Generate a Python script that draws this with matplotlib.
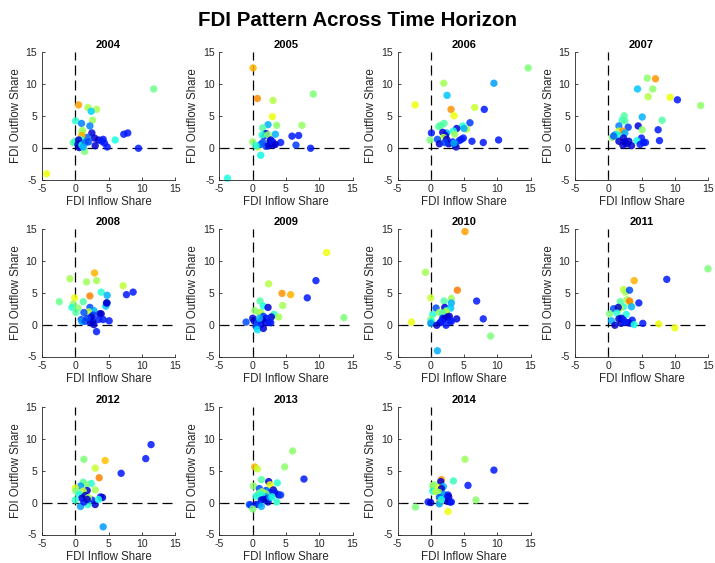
import matplotlib
matplotlib.use("Agg")
import matplotlib.pyplot as plt
import numpy as np

plt.rcParams['font.family'] = ['Liberation Sans', 'DejaVu Sans']
plt.rcParams['axes.unicode_minus'] = False

years = [2004, 2005, 2006, 2007, 2008, 2009, 2010, 2011, 2012, 2013, 2014]

# FDI inflow share (x), outflow share (y) and colour index per country, by year
inflow_2004 = [11.8, 0.5, 1.9, 3.2, 2.4, 2.6, 0.05, 0.95, 2.2, 1.1, 1.0, 2.5, 1.8, 1.0, 0.9, 2.9, 4.2, 3.5, 4.0, 4.4,
               6.0, 7.3, 7.9, 9.5, 4.8, 3.0, -0.3, 0.0, 0.5, 0.4, 0.6, 0.8, 1.4, 1.0, 1.5, -4.3, 2.0, 1.2]
outflow_2004 = [9.2, 6.7, 6.3, 6.0, 5.7, 4.3, 4.2, 3.8, 3.4, 2.7, 2.4, 2.3, 1.6, 1.9, 1.2, 1.5, 1.3, 1.2, 1.0, 0.7,
                1.2, 2.1, 2.3, -0.1, 0.1, 0.3, 0.8, 1.0, 1.2, 0.5, 0.0, 0.2, -0.6, 0.4, 0.8, -4.1, 0.9, 0.1]
group_2004 = [0.48, 0.74, 0.56, 0.56, 0.33, 0.54, 0.40, 0.25, 0.25, 0.54, 0.54, 0.08, 0.22, 0.73, 0.40, 0.08, 0.15,
              0.07, 0.15, 0.15, 0.38, 0.15, 0.15, 0.15, 0.15, 0.07, 0.45, 0.42, 0.07, 0.07, 0.07, 0.07, 0.50, 0.38,
              0.22, 0.64, 0.20, 0.30]

inflow_2005 = [0.05, 0.7, 3.05, 9.1, 2.95, 2.3, 3.6, 7.4, 1.5, 3.4, 5.9, 6.9, 4.2, 6.5, 8.7, 0.0, 0.8, 1.2, -3.8,
               2.0, 1.7, 1.4, 2.3, 2.6, 2.8, 3.1, 1.5, 2.0, 2.4, 2.7, 3.0, 1.2, 0.5, 3.4]
outflow_2005 = [12.5, 7.7, 7.4, 8.4, 4.85, 3.6, 3.5, 3.5, 3.1, 2.1, 1.8, 1.9, 0.8, 0.4, -0.1, 0.9, 0.1, -1.2, -4.8,
                2.2, 1.8, 2.0, 2.0, 1.0, 0.6, 0.4, 0.8, 0.2, 0.3, 1.2, 0.9, 0.5, 0.3, 0.5]
group_2005 = [0.72, 0.76, 0.57, 0.50, 0.64, 0.30, 0.52, 0.53, 0.45, 0.30, 0.15, 0.15, 0.15, 0.18, 0.15, 0.52, 0.58,
              0.37, 0.38, 0.07, 0.18, 0.40, 0.52, 0.07, 0.07, 0.07, 0.20, 0.18, 0.07, 0.07, 0.15, 0.22, 0.38, 0.07]

inflow_2006 = [14.65, 9.5, 1.95, 2.45, -2.35, 3.05, 6.6, 8.05, 3.5, 2.0, 1.5, 1.2, 5.9, 4.8, 5.4, 5.0, 3.9, 0.1,
               2.4, 3.4, 3.6, 1.8, 2.2, 1.9, -0.1, 1.0, 4.9, 4.6, 6.2, 7.9, 10.2, 1.3, 2.4, 2.7, 2.1, 3.3, 3.6, 3.8,
               4.3, 3.5]
outflow_2006 = [12.5, 10.1, 10.1, 8.2, 6.7, 6.0, 6.3, 6.0, 5.0, 3.8, 3.5, 3.3, 3.9, 3.4, 2.9, 3.0, 3.0, 2.3, 2.3,
                2.6, 2.1, 2.4, 1.9, 1.6, 1.2, 1.3, 1.5, 1.3, 1.0, 0.8, 1.2, 0.6, 1.3, 0.6, 0.8, 0.9, 0.5, 0.1, 1.1,
                0.7]
group_2006 = [0.50, 0.28, 0.55, 0.32, 0.64, 0.75, 0.59, 0.15, 0.64, 0.45, 0.45, 0.45, 0.18, 0.40, 0.57, 0.30, 0.08,
              0.15, 0.30, 0.38, 0.54, 0.08, 0.08, 0.58, 0.50, 0.20, 0.15, 0.15, 0.15, 0.15, 0.15, 0.07, 0.07, 0.07,
              0.18, 0.15, 0.07, 0.07, 0.15, 0.30]

inflow_2007 = [5.87, 7.1, 4.4, 6.7, 6.0, 9.3, 10.4, 13.9, 2.4, 5.1, 2.1, 2.5, 8.1, 1.6, 4.5, 3.0, 7.5, 5.1, 1.6,
               2.2, 1.0, 1.4, 0.6, 0.8, 2.5, 5.0, 7.7, 4.3, 5.6, 5.3, 1.6, 2.3, 2.8, 3.1, 3.5, 2.5, 4.8, 2.2]
outflow_2007 = [10.9, 10.8, 9.2, 9.2, 8.0, 7.9, 7.5, 6.6, 5.0, 4.8, 4.3, 4.2, 4.3, 3.4, 3.4, 3.2, 2.8, 2.8, 2.6,
                2.6, 2.0, 2.0, 1.6, 1.8, 2.3, 1.5, 1.1, 1.1, 0.8, 0.8, 1.0, 1.5, 0.6, 1.0, 0.3, 0.9, 0.5, 0.4]
group_2007 = [0.52, 0.75, 0.32, 0.52, 0.57, 0.64, 0.15, 0.52, 0.45, 0.30, 0.42, 0.45, 0.45, 0.25, 0.08, 0.18, 0.15,
              0.52, 0.58, 0.75, 0.28, 0.38, 0.52, 0.22, 0.30, 0.15, 0.15, 0.38, 0.15, 0.15, 0.07, 0.07, 0.07, 0.07,
              0.07, 0.07, 0.15, 0.07]

inflow_2008 = [-0.8, 2.9, 1.7, 3.2, 7.2, 8.7, 7.7, 3.9, 4.8, 2.2, -0.1, -2.4, 1.2, -0.3, -0.5, 0.4, 0.1, 4.6, 4.8,
               4.7, 2.2, 2.8, 2.0, 1.3, 3.9, 3.7, 2.7, 2.4, 0.9, 1.0, 1.5, 2.3, 2.8, 3.5, 4.2, 5.1, 3.2, 2.6, 1.8]
outflow_2008 = [7.2, 8.1, 6.7, 6.9, 6.1, 5.1, 4.7, 5.1, 4.6, 4.5, 4.2, 3.6, 3.6, 3.2, 2.7, 2.6, 1.9, 2.9, 3.4, 3.4,
                2.7, 2.2, 2.0, 1.9, 1.7, 1.7, 1.5, 1.2, 0.8, 0.5, 0.5, 0.3, 0.0, 0.8, 0.8, 0.6, -1.1, 0.5, 1.0]
group_2008 = [0.55, 0.72, 0.54, 0.55, 0.58, 0.15, 0.15, 0.40, 0.30, 0.77, 0.64, 0.48, 0.45, 0.52, 0.40, 0.52, 0.45,
              0.32, 0.18, 0.07, 0.20, 0.30, 0.58, 0.20, 0.07, 0.07, 0.18, 0.07, 0.20, 0.28, 0.20, 0.07, 0.07, 0.15,
              0.15, 0.15, 0.15, 0.07, 0.18]

inflow_2009 = [11.1, 9.5, 2.4, 4.4, 5.7, 8.2, 4.5, 1.1, 1.6, 2.3, 0.3, 1.0, 1.2, 3.2, 3.9, 13.7, 2.8, 1.6, 2.0, 1.4,
               -1.0, 0.0, 0.2, 0.7, 1.2, 1.9, 2.5, 2.7, 0.5, 0.7, 1.6, 1.0]
outflow_2009 = [11.3, 6.9, 6.4, 4.9, 4.7, 4.2, 3.0, 3.7, 2.9, 2.7, 2.2, 1.9, 1.8, 1.6, 1.2, 1.1, 1.2, 1.3, 1.0, 0.8,
                0.4, 1.0, 0.6, 0.2, 0.0, 0.3, 0.4, 0.3, -0.3, -0.8, -0.6, 1.0]
group_2009 = [0.64, 0.15, 0.57, 0.75, 0.72, 0.15, 0.55, 0.45, 0.38, 0.08, 0.52, 0.52, 0.56, 0.40, 0.55, 0.50, 0.07,
              0.18, 0.15, 0.07, 0.20, 0.07, 0.07, 0.18, 0.15, 0.07, 0.15, 0.15, 0.20, 0.35, 0.08, 0.30]

inflow_2010 = [5.15, -0.8, 4.0, 0.0, 6.9, 2.0, 3.1, 3.1, 0.8, 2.1, 3.0, 2.4, 1.3, 2.3, 1.7, 0.3, 0.0, 0.1, 0.0, 7.9,
               3.9, -2.9, 9.0, 1.0, 1.4, 1.8, 2.0, 2.5, 2.9, 1.6, 0.9, 2.3, 2.8, 3.1]
outflow_2010 = [14.6, 8.2, 5.4, 4.2, 3.7, 3.7, 4.1, 3.4, 2.6, 2.7, 2.6, 2.2, 1.9, 2.0, 1.8, 1.6, 0.8, 0.5, 0.2, 0.9,
                0.9, 0.4, -1.8, -4.1, 0.3, 1.0, 0.9, 1.2, 0.6, 0.5, -0.1, -0.1, 1.3, 0.5]
group_2010 = [0.74, 0.55, 0.78, 0.59, 0.15, 0.45, 0.54, 0.30, 0.20, 0.08, 0.32, 0.40, 0.54, 0.58, 0.45, 0.40, 0.52,
              0.38, 0.28, 0.15, 0.08, 0.64, 0.50, 0.30, 0.07, 0.15, 0.07, 0.07, 0.15, 0.15, 0.07, 0.15, 0.07, 0.15]

inflow_2011 = [15.0, 8.8, 3.9, 2.3, 2.6, 3.2, 1.8, 2.8, 3.3, 3.2, 4.6, 3.5, 2.3, 1.8, 0.8, 1.5, 0.2, 1.3, 2.7, 2.0,
               1.6, 2.3, 0.5, 3.6, 3.4, 3.0, 1.0, 5.2, 7.6, 10.0, 1.9, 2.5, 3.9]
outflow_2011 = [8.75, 7.1, 6.9, 5.5, 5.1, 5.4, 3.6, 3.9, 3.4, 3.7, 3.4, 2.8, 2.8, 2.6, 2.5, 2.7, 1.7, 1.8, 1.6, 1.0,
                0.9, 0.7, 0.6, 0.7, 0.2, 0.3, -0.1, 0.2, 0.1, -0.5, 0.2, 0.4, 0.0]
group_2011 = [0.50, 0.15, 0.72, 0.58, 0.55, 0.20, 0.45, 0.55, 0.64, 0.78, 0.15, 0.30, 0.40, 0.58, 0.20, 0.07, 0.50,
              0.40, 0.38, 0.07, 0.07, 0.15, 0.30, 0.15, 0.15, 0.07, 0.07, 0.15, 0.64, 0.64, 0.07, 0.15, 0.38]

inflow_2012 = [11.4, 10.6, 1.3, 4.5, 3.0, 6.9, 3.6, 1.2, 2.4, 1.6, 0.8, 0.0, 3.0, 1.8, 1.2, 0.1, 0.6, 1.5, 1.0, 3.8,
               4.1, 2.5, 3.0, 0.0, 1.9, 0.8, 4.2, 2.0, 1.3, 1.8, 3.5]
outflow_2012 = [9.1, 6.9, 6.8, 6.6, 5.4, 4.6, 3.9, 3.2, 3.0, 2.9, 2.6, 2.3, 2.0, 1.9, 1.8, 1.8, 1.3, 1.1, 0.7, 0.9,
                0.8, 0.4, -0.3, 0.4, -0.3, -0.6, -3.8, 0.8, 0.1, 0.5, 0.5]
group_2012 = [0.15, 0.15, 0.50, 0.70, 0.59, 0.15, 0.77, 0.45, 0.40, 0.50, 0.28, 0.62, 0.55, 0.07, 0.58, 0.50, 0.38,
              0.07, 0.07, 0.15, 0.07, 0.15, 0.07, 0.40, 0.40, 0.28, 0.28, 0.55, 0.15, 0.07, 0.38]

inflow_2013 = [6.0, 0.3, 0.7, 4.8, 7.7, 1.3, 2.4, 3.7, 0.1, 2.6, 1.0, 2.0, 2.3, 3.1, 2.5, 3.4, 3.9, 4.2, 0.9, 1.4,
               1.0, 2.0, 1.9, 1.3, 0.5, 1.6, 1.3, 2.3, 2.1, 3.6, 2.6, 2.9, -0.5, -0.3, 0.5, 1.0, 1.3, 0.0]
outflow_2013 = [8.1, 5.6, 5.3, 5.6, 3.7, 3.6, 3.3, 3.1, 2.6, 2.8, 2.2, 1.9, 1.7, 2.0, 1.5, 1.5, 1.2, 1.2, 1.3, 1.7,
                1.5, 1.4, 0.9, 1.2, 1.0, 0.5, 0.4, 0.1, 0.6, 0.1, 0.8, 0.9, -0.3, -0.4, -0.3, -0.2, -0.6, -1.0]
group_2013 = [0.52, 0.72, 0.59, 0.52, 0.15, 0.45, 0.08, 0.40, 0.52, 0.64, 0.20, 0.18, 0.28, 0.07, 0.15, 0.15, 0.07,
              0.18, 0.75, 0.58, 0.45, 0.52, 0.28, 0.38, 0.38, 0.15, 0.07, 0.07, 0.07, 0.40, 0.28, 0.38, 0.20, 0.18,
              0.07, 0.18, 0.30, 0.50]

inflow_2014 = [5.15, 9.5, 5.6, 3.4, 1.6, 1.5, 0.3, 0.5, 1.9, 1.2, 1.6, 0.3, 0.8, 1.2, 1.8, 2.0, 2.6, 2.7, 2.3, 1.3,
               2.5, 2.9, 3.1, -0.4, 0.0, 1.3, 1.3, 2.6, 6.8, -2.3, 1.6]
outflow_2014 = [6.8, 5.1, 2.7, 3.4, 3.6, 3.3, 2.6, 2.8, 2.5, 2.3, 2.2, 1.8, 1.7, 1.6, 1.0, 1.3, 1.2, 0.9, 0.6, 0.8,
                0.2, 0.1, 0.1, 0.1, 0.0, 0.0, -0.2, -1.4, 0.4, -0.7, 0.5]
group_2014 = [0.54, 0.15, 0.15, 0.42, 0.75, 0.07, 0.52, 0.52, 0.30, 0.64, 0.07, 0.40, 0.58, 0.54, 0.38, 0.28, 0.15,
              0.07, 0.15, 0.20, 0.07, 0.07, 0.15, 0.15, 0.07, 0.72, 0.30, 0.64, 0.52, 0.50, 0.38]

inflows = [inflow_2004, inflow_2005, inflow_2006, inflow_2007, inflow_2008, inflow_2009,
           inflow_2010, inflow_2011, inflow_2012, inflow_2013, inflow_2014]
outflows = [outflow_2004, outflow_2005, outflow_2006, outflow_2007, outflow_2008, outflow_2009,
            outflow_2010, outflow_2011, outflow_2012, outflow_2013, outflow_2014]
groups = [group_2004, group_2005, group_2006, group_2007, group_2008, group_2009,
          group_2010, group_2011, group_2012, group_2013, group_2014]

ticks = [-5, 0, 5, 10, 15]
axis_grey = '#262626'

W, H = 715, 563
fig = plt.figure(figsize=(W / 100, H / 100), dpi=100)
fig.text(0.5, 1 - 20 / H, 'FDI Pattern Across Time Horizon', ha='center', va='center',
         fontsize=14.8, fontweight='bold')

col_left = [42, 219.5, 397.5, 575]
row_top = [52, 229, 407]
ax_w, ax_h = 133, 127.5

for i, year in enumerate(years):
    r, c = divmod(i, 4)
    left = col_left[c] / W
    bottom = 1 - (row_top[r] + ax_h) / H
    ax = fig.add_axes([left, bottom, ax_w / W, ax_h / H])

    ax.plot([-5, 15], [0, 0], color='black', lw=0.9, ls=(0, (8, 4)), zorder=1)
    ax.plot([0, 0], [-5, 15], color='black', lw=0.9, ls=(0, (8, 4)), zorder=1)
    # markers on the axis limits are drawn whole, not cut at the frame
    ax.scatter(inflows[i], outflows[i], c=groups[i], cmap='jet', vmin=0, vmax=1,
               s=28, alpha=0.85, linewidths=0, zorder=2, clip_on=False)

    ax.set_xlim(-5, 15)
    ax.set_ylim(-5, 15)
    ax.set_xticks(ticks)
    ax.set_yticks(ticks)
    for side in ('top', 'right'):
        ax.spines[side].set_visible(False)
    for side in ('left', 'bottom'):
        ax.spines[side].set_color(axis_grey)
        ax.spines[side].set_linewidth(0.6)
    ax.tick_params(direction='in', length=2.5, width=0.6, colors=axis_grey, labelsize=7.6)
    ax.tick_params(axis='x', pad=3)
    ax.tick_params(axis='y', pad=3.5)
    ax.set_title(str(year), fontsize=8, fontweight='bold', pad=3)
    ax.set_xlabel('FDI Inflow Share', fontsize=8.3, color=axis_grey, labelpad=2)
    ax.set_ylabel('FDI Outflow Share', fontsize=8.3, color=axis_grey, labelpad=2.5)

fig.savefig('out.png', dpi=100)
